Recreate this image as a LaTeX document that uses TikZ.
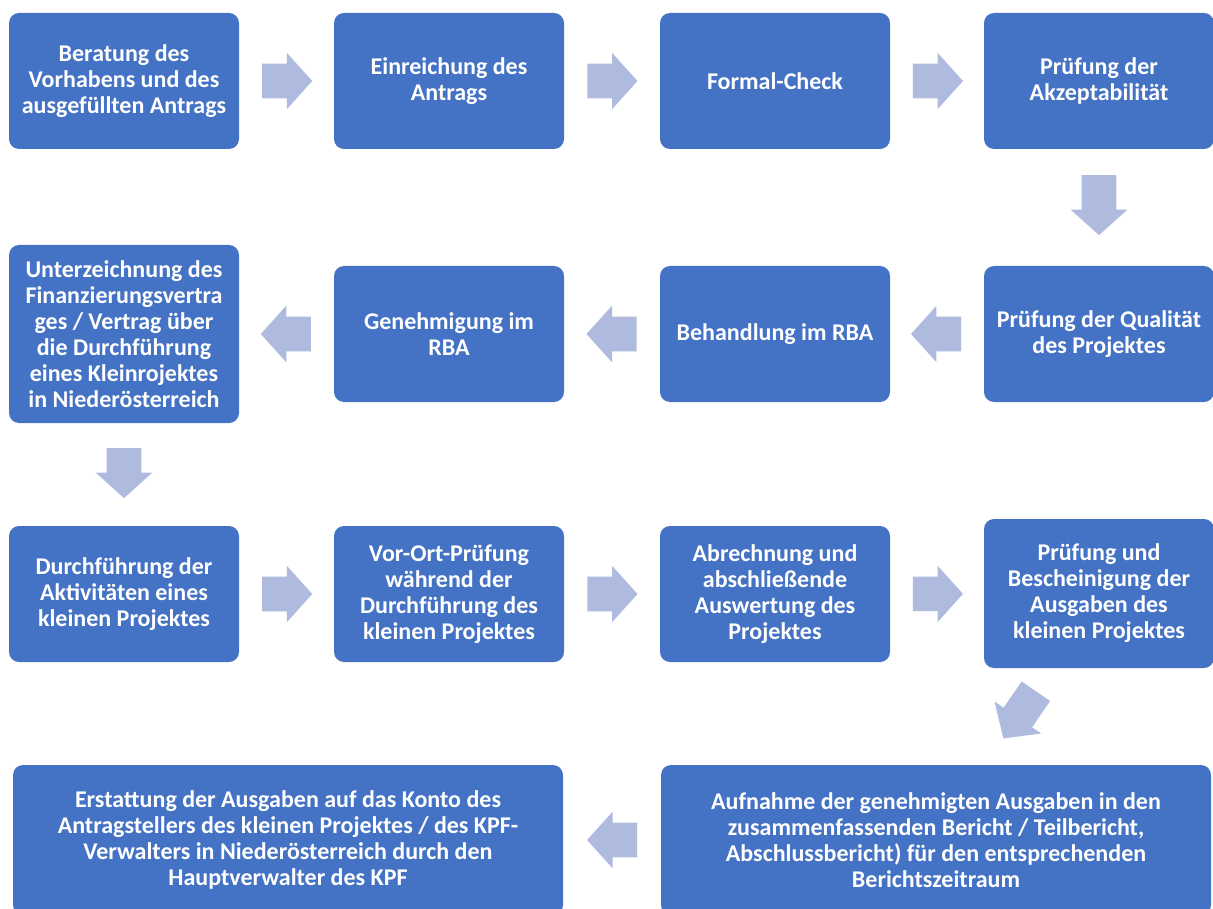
\documentclass[tikz,border=0pt]{standalone}
\usepackage{fontspec}
\setmainfont{Carlito}
\usetikzlibrary{shapes.arrows,calc}
\definecolor{boxblue}{HTML}{4472C4}
\definecolor{arrowblue}{HTML}{AEBBDE}

\begin{document}
\begin{tikzpicture}[x=0.75pt, y=-0.75pt,
    box/.style = {shape=rectangle, rounded corners=7.5pt, fill=boxblue,
      text=white, font=\fontsize{18}{19.5}\selectfont\bfseries, align=center,
      minimum width=172.5pt, minimum height=102pt, inner sep=0pt},
    tallbox/.style = {box, minimum height=111.75pt},
    highbox/.style = {box, minimum height=133.5pt},
    widebox/.style = {box, minimum width=412.5pt, minimum height=112.5pt},
    flow/.style = {shape=single arrow, fill=arrowblue, anchor=tail,
      inner xsep=0pt, inner ysep=12.75pt, minimum height=37.5pt,
      single arrow head extend=8.25pt, single arrow tip angle=96}]
  \useasboundingbox (0,0) rectangle (1213,909);

  % first row
  \node[box] (beratung) at (124,81) {Beratung des \\ Vorhabens und des \\ ausgefüllten Antrags};
  \node[box] (einreichung) at (449,81) {Einreichung des \\ Antrags};
  \node[box] (formal) at (775,81) {Formal-Check};
  \node[box] (akzept) at (1099,81) {Prüfung der \\ Akzeptabilität};

  % second row
  \node[box] (qualitaet) at (1099,334) {Prüfung der Qualität \\ des Projektes};
  \node[box] (behandlung) at (775,334) {Behandlung im RBA};
  \node[box] (genehmigung) at (449,334) {Genehmigung im \\ RBA};
  \node[highbox] (vertrag) at (124,334) {Unterzeichnung des \\ Finanzierungsvertra \\ ges / Vertrag über \\ die Durchführung \\ eines Kleinrojektes \\ in Niederösterreich};

  % third row
  \node[box] (durchfuehrung) at (124,594) {Durchführung der \\ Aktivitäten eines \\ kleinen Projektes};
  \node[box] (vorort) at (449,594) {Vor-Ort-Prüfung \\ während der \\ Durchführung des \\ kleinen Projektes};
  \node[box] (abrechnung) at (775,594) {Abrechnung und \\ abschließende \\ Auswertung des \\ Projektes};
  \node[tallbox] (bescheinigung) at (1099,593.5) {Prüfung und \\ Bescheinigung der \\ Ausgaben des \\ kleinen Projektes};

  % last row
  \node[widebox] (aufnahme) at (936,840) {Aufnahme der genehmigten Ausgaben in den \\ zusammenfassenden Bericht / Teilbericht, \\ Abschlussbericht) für den entsprechenden \\ Berichtszeitraum};
  \node[widebox] (erstattung) at (288,840) {Erstattung der Ausgaben auf das Konto des \\ Antragstellers des kleinen Projektes / des KPF- \\ Verwalters in Niederösterreich durch den \\ Hauptverwalter des KPF};

  % arrows
  \node[flow] (f1) at ($(beratung.east)!0.24!(einreichung.west)$) {};
  \node[flow] (f2) at ($(einreichung.east)!0.24!(formal.west)$) {};
  \node[flow] (f3) at ($(formal.east)!0.24!(akzept.west)$) {};
  \node[flow, rotate=-90, minimum height=45pt] (f4) at ($(akzept.south)!0.22!(qualitaet.north)$) {};
  \node[flow, rotate=180] (f5) at ($(qualitaet.west)!0.24!(behandlung.east)$) {};
  \node[flow, rotate=180] (f6) at ($(behandlung.west)!0.24!(genehmigung.east)$) {};
  \node[flow, rotate=180] (f7) at ($(genehmigung.west)!0.24!(vertrag.east)$) {};
  \node[flow, rotate=-90] (f8) at ($(vertrag.south)!0.24!(durchfuehrung.north)$) {};
  \node[flow] (f9) at ($(durchfuehrung.east)!0.24!(vorort.west)$) {};
  \node[flow] (f10) at ($(vorort.east)!0.24!(abrechnung.west)$) {};
  \node[flow] (f11) at ($(abrechnung.east)!0.24!(bescheinigung.west)$) {};
  \node[flow, rotate=-124.5, minimum height=43pt] (f12) at (1036,691) {};
  \node[flow, rotate=180] (f13) at ($(aufnahme.west)!0.24!(erstattung.east)$) {};
\end{tikzpicture}
\end{document}
